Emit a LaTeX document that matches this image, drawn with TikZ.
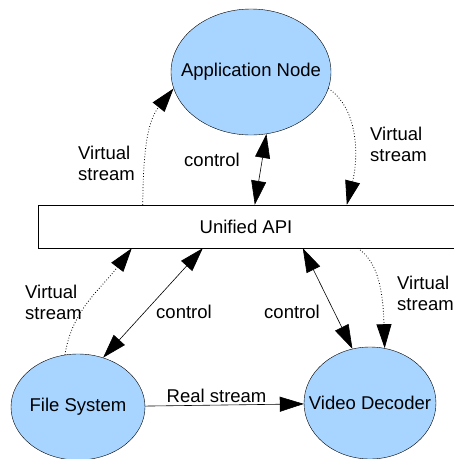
\documentclass[tikz,border=0pt]{standalone}
\usepackage{fontspec}
\setmainfont{Liberation Sans}
\usetikzlibrary{arrows.meta, shapes.geometric}
\definecolor{nodeblue}{RGB}{168,213,255}
\tikzset{
    unit/.style={ellipse, draw, fill=nodeblue, inner sep=-18pt},
    vstream/.style={dotted, line width=0.8pt, -{Triangle[length=24pt,width=15pt]}},
    ctrl/.style={line width=0.6pt, {Triangle[length=24pt,width=15pt]}-{Triangle[length=24pt,width=15pt]}},
    lbl/.style={align=left, inner sep=0pt}
}
\begin{document}
\begin{tikzpicture}[x=1pt, y=-1pt, font=\fontsize{18.5}{21}\selectfont]
    \clip (0, 0) rectangle (454, 459);
    \node[unit, minimum width=160pt, minimum height=126pt] (app) at (251, 72) {Application Node};
    \node[draw, minimum width=416pt, minimum height=43pt, inner sep=0pt] (api) at (246, 226.5) {Unified API};
    \node[unit, minimum width=134pt, minimum height=106pt] (fs) at (78, 407) {File System};
    \node[unit, minimum width=132pt, minimum height=112pt] (vd) at (370, 403) {Video Decoder};
    % upper connectors
    \draw[vstream] ([xshift=105pt]api.north west) .. controls (143, 140) and (150, 118) .. (app.192);
    \draw[ctrl] ([xshift=217pt]api.north west) -- (app.284);
    \draw[vstream] (app.348) .. controls (360, 110) and (358, 160) .. ([xshift=309pt]api.north west);
    % lower connectors
    \draw[vstream] (fs.104) .. controls (72, 310) and (100, 290) .. ([xshift=94pt]api.south west);
    \draw[ctrl] ([xshift=165pt]api.south west) -- (fs.63);
    \draw[ctrl] ([xshift=265pt]api.south west) -- (vd.108);
    \draw[vstream] ([xshift=320pt]api.south west) .. controls (378, 262) and (383, 290) .. (vd.75);
    \draw[line width=0.6pt, -{Triangle[length=24pt,width=15pt]}] (fs) -- (vd) node[pos=.45, above=1pt, inner sep=1pt] (rs) {Real stream};
    % labels
    \node[lbl, anchor=west] (l1) at (78, 163) {Virtual\\stream};
    \node[lbl] (c1) at (212, 160) {control};
    \node[lbl, anchor=west] (l2) at (370, 144) {Virtual\\stream};
    \node[lbl, anchor=west] (l3) at (25, 302) {Virtual\\stream};
    \node[lbl] (c2) at (184, 312) {control};
    \node[lbl] (c3) at (292, 312) {control};
    \node[lbl, anchor=west] (l4) at (397, 293) {Virtual\\stream};
\end{tikzpicture}
\end{document}
